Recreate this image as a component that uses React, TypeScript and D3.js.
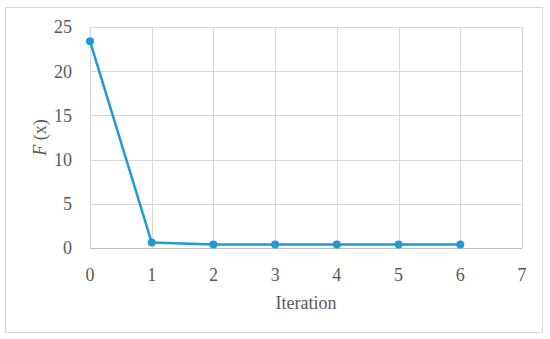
import React, { useEffect, useRef } from 'react';
import * as d3 from 'd3';

const iterations = [0, 1, 2, 3, 4, 5, 6];
const fValues = [23.4, 0.62, 0.4, 0.4, 0.4, 0.4, 0.4];
const xTicks = [0, 1, 2, 3, 4, 5, 6, 7];
const yTicks = [0, 5, 10, 15, 20, 25];

const W = 550;
const H = 339;
const FONT = '"Liberation Serif", "DejaVu Serif", serif';

export default function App() {
  const ref = useRef<SVGSVGElement>(null);

  useEffect(() => {
    const svg = d3.select(ref.current);
    svg.selectAll('*').remove();

    const left = 90, right = 522, top = 27, bottom = 248;
    const x = d3.scaleLinear().domain([0, 7]).range([left, right]);
    const y = d3.scaleLinear().domain([0, 25]).range([bottom, top]);

    // outer frame
    svg.append('rect')
      .attr('x', 5.5).attr('y', 7.5)
      .attr('width', 537).attr('height', 325)
      .attr('fill', '#fff')
      .attr('stroke', '#d9d9d9');

    const grid = svg.append('g').attr('stroke', '#d9d9d9').attr('stroke-width', 1);
    yTicks.forEach(t => {
      grid.append('line')
        .attr('x1', left).attr('x2', right)
        .attr('y1', Math.round(y(t)) + 0.5).attr('y2', Math.round(y(t)) + 0.5);
    });
    xTicks.forEach(t => {
      grid.append('line')
        .attr('x1', Math.round(x(t)) + 0.5).attr('x2', Math.round(x(t)) + 0.5)
        .attr('y1', top).attr('y2', bottom);
    });
    // baseline
    svg.append('line')
      .attr('x1', left).attr('x2', right)
      .attr('y1', Math.round(y(0)) + 0.5).attr('y2', Math.round(y(0)) + 0.5)
      .attr('stroke', '#bfbfbf');

    const labels = svg.append('g')
      .attr('font-family', FONT)
      .attr('font-size', 18)
      .attr('fill', '#595959');

    yTicks.forEach(t => {
      labels.append('text')
        .attr('x', 72).attr('y', y(t))
        .attr('dy', '0.35em')
        .attr('text-anchor', 'end')
        .text(t);
    });
    xTicks.forEach(t => {
      labels.append('text')
        .attr('x', x(t)).attr('y', 281)
        .attr('text-anchor', 'middle')
        .text(t);
    });

    labels.append('text')
      .attr('x', (left + right) / 2).attr('y', 309)
      .attr('text-anchor', 'middle')
      .text('Iteration');

    const yl = labels.append('text')
      .attr('transform', `translate(40, ${(top + bottom) / 2}) rotate(-90)`)
      .attr('dy', '0.35em')
      .attr('text-anchor', 'middle');
    yl.append('tspan').attr('font-style', 'italic').text('F');
    yl.append('tspan').text(' (x)');

    const pts = iterations.map((d, i) => [d, fValues[i]] as [number, number]);
    const line = d3.line<[number, number]>()
      .x(d => x(d[0]))
      .y(d => y(d[1]));

    svg.append('path')
      .attr('d', line(pts))
      .attr('fill', 'none')
      .attr('stroke', '#1f9ad6')
      .attr('stroke-width', 2.5);

    svg.selectAll('circle.pt')
      .data(pts)
      .enter()
      .append('circle')
      .attr('class', 'pt')
      .attr('cx', d => x(d[0]))
      .attr('cy', d => y(d[1]))
      .attr('r', 4)
      .attr('fill', '#1f9ad6');
  }, []);

  return (
    <svg ref={ref} width={W} height={H} style={{ position: 'absolute', left: 0, top: 0 }} />
  );
}
